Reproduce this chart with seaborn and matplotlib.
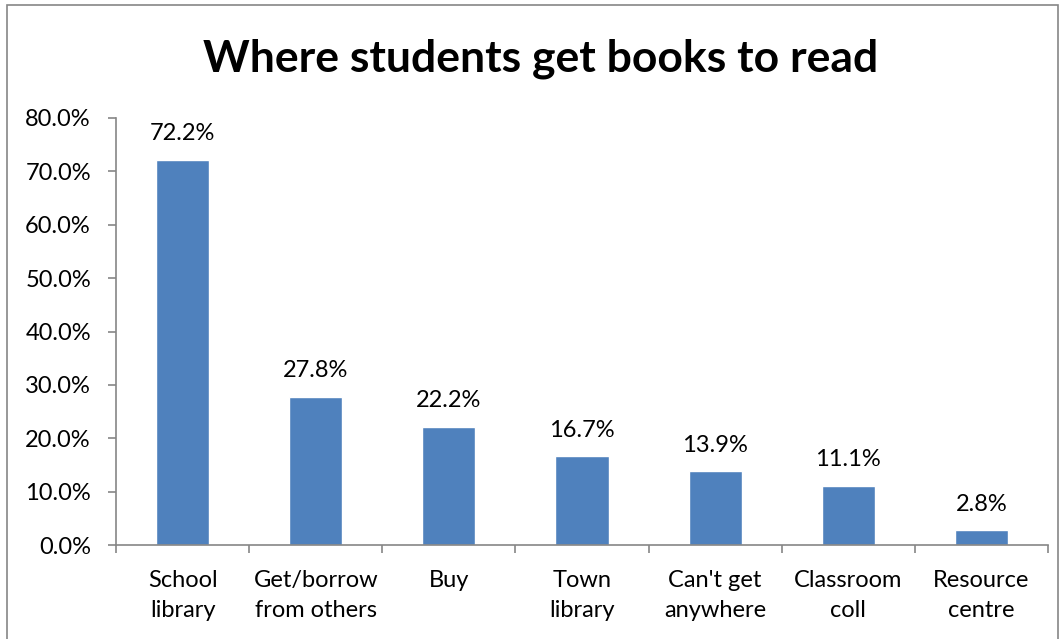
import matplotlib
matplotlib.use("Agg")
import matplotlib.pyplot as plt
import seaborn as sns
import pandas as pd
from matplotlib.patches import Rectangle
from matplotlib.ticker import FuncFormatter, FixedLocator

categories = ["School\nlibrary", "Get/borrow\nfrom others", "Buy", "Town\nlibrary",
              "Can't get\nanywhere", "Classroom\ncoll", "Resource\ncentre"]
values = [72.2, 27.8, 22.2, 16.7, 13.9, 11.1, 2.8]
title = "Where students get books to read"

sns.set_theme(style="white")
plt.rcParams["font.family"] = ["Lato", "DejaVu Sans"]

df = pd.DataFrame({"source": categories, "pct": values})

fig = plt.figure(figsize=(10.64, 6.39), dpi=100)
ax = fig.add_axes([116/1064, 1 - 545/639, (1048 - 116)/1064, (545 - 118)/639])

sns.barplot(data=df, x="source", y="pct", color="#4F81BD", saturation=1,
            width=0.4, ax=ax)

ax.set_xlim(-0.5, len(categories) - 0.5)
ax.set_ylim(0, 80)
ax.set_yticks(range(0, 81, 10))
ax.yaxis.set_major_formatter(FuncFormatter(lambda v, p: f"{v:.1f}%"))
ax.set_xlabel("")
ax.set_ylabel("")

gray = "#868686"
for s in ["top", "right"]:
    ax.spines[s].set_visible(False)
for s in ["left", "bottom"]:
    ax.spines[s].set_color(gray)
    ax.spines[s].set_linewidth(1.2)

ax.xaxis.set_minor_locator(FixedLocator([i - 0.5 for i in range(len(categories) + 1)]))
ax.tick_params(axis="x", which="major", length=0, pad=18, labelsize=17, colors="black")
ax.tick_params(axis="x", which="minor", length=6, width=1.2, color=gray, direction="out", bottom=True)
ax.tick_params(axis="y", which="major", length=6, width=1.2, color=gray, direction="out",
               left=True, labelsize=17, labelcolor="black", pad=12)
for lab in ax.get_xticklabels():
    lab.set_linespacing(1.55)

for i, v in enumerate(values):
    ax.annotate(f"{v:.1f}%", (i, v), xytext=(0, 11), textcoords="offset points",
                ha="center", va="bottom", fontsize=17, color="black")

fig.text(541/1064, 1 - 59/639, title, ha="center", va="center", fontsize=32,
         fontweight="bold", color="black")

fig.patches.append(Rectangle((7/1064, -0.05), (1058 - 7)/1064, 1 - 5/639 + 0.05,
                             transform=fig.transFigure, fill=False,
                             edgecolor=gray, linewidth=1.2))

fig.savefig("out.png", dpi=100)
